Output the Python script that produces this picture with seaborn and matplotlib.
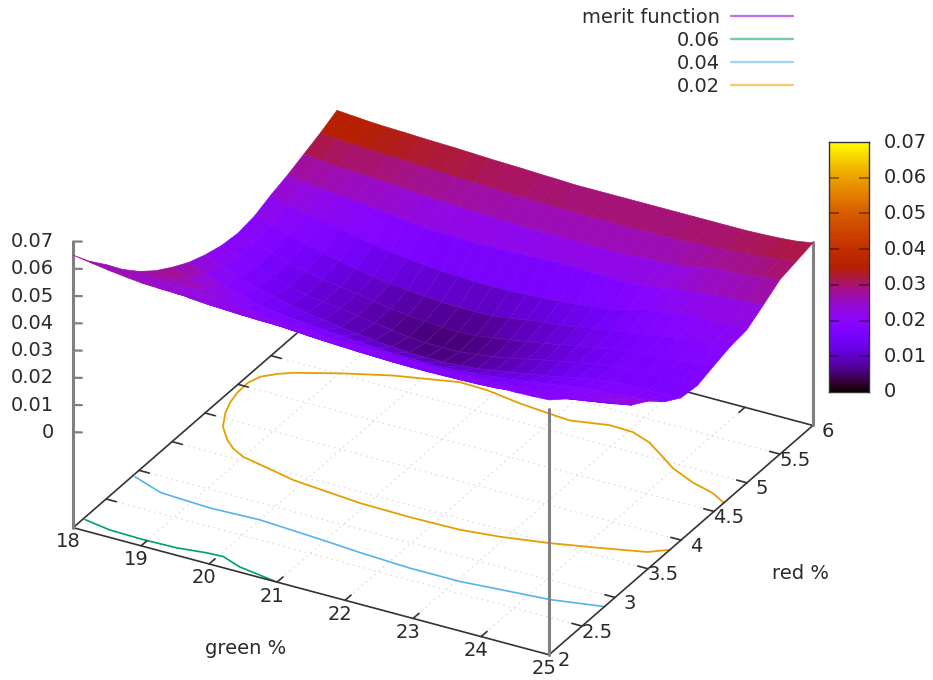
import numpy as np
import seaborn as sns
import matplotlib
matplotlib.use("Agg")
import matplotlib.pyplot as plt
from matplotlib.colors import ListedColormap
from matplotlib.lines import Line2D
from mpl_toolkits.mplot3d import proj3d

# axis values
green = [18, 18.25, 18.5, 18.75, 19, 19.25, 19.5, 19.75, 20, 20.25, 20.5, 20.75, 21, 21.25, 21.5,
         21.75, 22, 22.25, 22.5, 22.75, 23, 23.25, 23.5, 23.75, 24, 24.25, 24.5, 24.75, 25]
red = [2, 2.25, 2.5, 2.75, 3, 3.25, 3.5, 3.75, 4, 4.25, 4.5, 4.75, 5, 5.25, 5.5, 5.75, 6]

# merit function, one row per red value, in 1e-3
merit_rows = [
    [65, 64, 63, 62.2, 61.5, 61.2, 61, 61, 61, 60.8, 60.5, 60, 59.5, 59.2, 59, 59, 59, 58.8, 58.5, 58.2, 58, 58, 58, 58, 58, 58, 58, 58.2, 58.5],
    [57.5, 56.8, 56, 55.3, 54.7, 54.4, 54.1, 54, 54, 53.8, 53.6, 53.2, 52.8, 52.6, 52.5, 52.4, 52.3, 52.1, 51.9, 51.7, 51.6, 51.6, 51.6, 51.7, 51.8, 52.2, 52.6, 53, 53.6],
    [51, 50.2, 49.5, 48.8, 48, 47.7, 47.5, 47.2, 47, 47, 47, 46.7, 46.5, 46.2, 46, 46, 46, 45.8, 45.5, 45.5, 45.5, 45.7, 46, 46.2, 46.5, 47.2, 48, 48.5, 49],
    [44, 43, 42, 41, 40, 39.5, 39.2, 38.9, 38.7, 38.6, 38.5, 38.2, 38, 37.8, 37.6, 37.5, 37.5, 37.4, 37.4, 37.4, 37.6, 37.9, 38.2, 38.7, 39.2, 40, 41, 42, 42.5],
    [38, 37, 36, 35, 34, 33.4, 33, 32.5, 32, 31.5, 31, 30.7, 30.5, 30.2, 30, 30, 30, 30, 30, 30.2, 30.5, 30.7, 31, 31.5, 32, 33, 34, 35, 36],
    [33, 31.5, 30, 28.5, 27, 26.2, 25.6, 25, 24.5, 24.1, 23.7, 23.4, 23.1, 22.9, 22.7, 22.6, 22.6, 22.7, 22.8, 23, 23.3, 24, 24.7, 25.5, 26.3, 27.3, 28.3, 29.3, 30.3],
    [29, 26.8, 24.5, 22.8, 21, 20.2, 19.5, 19, 18.5, 18, 17.5, 17.2, 17, 16.7, 16.5, 16.5, 16.5, 16.5, 16.5, 17, 17.5, 18.5, 19.5, 20.5, 21.5, 22.8, 24, 25.2, 26.5],
    [25.5, 23, 20.5, 18.8, 17, 16, 15.2, 14.5, 14, 13.5, 13, 12.6, 12.2, 12, 11.9, 11.9, 12.5, 13, 13.5, 14.2, 15, 16, 17, 17.8, 18.5, 19, 19.5, 20.2, 21],
    [23, 20.5, 18, 16, 14.5, 13, 11.8, 10.8, 9.8, 9, 8.2, 7.6, 7.2, 7, 7, 7.4, 8, 9, 10, 11, 12, 13.2, 14.5, 15.5, 16.5, 16.5, 16.6, 16.9, 17.2],
    [21.2, 18.8, 16.4, 14.5, 12.8, 11.5, 10.5, 9.8, 8.8, 7.8, 6.8, 6, 5.5, 5.4, 5.5, 6.2, 7, 8.2, 9.5, 10.8, 12, 13.2, 14.5, 15.3, 16, 16, 16, 16.2, 16.5],
    [20.5, 18.5, 16.5, 14.6, 13, 11.8, 10.8, 9.8, 8.8, 7.8, 7, 6.4, 6, 5.9, 6.1, 7, 8, 9, 10, 11.2, 12.5, 13.5, 14.5, 15.5, 16.5, 16.8, 17.2, 17.8, 18.5],
    [21.5, 19.8, 18, 16.2, 14.6, 13.2, 12, 10.9, 10, 9.3, 8.7, 8.3, 8, 8, 8.2, 9, 10, 10.8, 11.5, 12.5, 13.5, 14.5, 15.5, 16.5, 17.5, 18.5, 19.2, 19.7, 20.3],
    [24, 22, 20.2, 19.2, 18.2, 17, 15.8, 14.8, 14, 13.3, 12.8, 12.4, 12.1, 12, 12.1, 12.4, 12.8, 13.3, 13.9, 14.6, 15.4, 16.8, 18.5, 19.5, 20.5, 20.7, 20.8, 21, 21.2],
    [26, 25, 24.2, 23.6, 23.2, 22.4, 21.6, 20.8, 20, 19.8, 19.6, 19.5, 19.5, 19.6, 19.8, 20, 20.3, 20.3, 20, 19.8, 19.8, 20.2, 21, 22.3, 23, 23.6, 24, 24.5, 25],
    [28.5, 27.8, 27, 26.7, 26.5, 26, 25.5, 25, 24.5, 24.2, 24, 23.8, 23.5, 23.3, 23.2, 23.1, 23, 23, 23, 23.2, 23.5, 23.8, 24.2, 25.2, 26.5, 27, 27.5, 28.2, 29],
    [31, 30.4, 30, 29.6, 29.4, 29.1, 28.7, 28.4, 28, 27.7, 27.5, 27.2, 27, 26.8, 26.7, 26.6, 26.5, 26.5, 26.5, 26.6, 26.7, 26.9, 27.1, 27.5, 28, 28.4, 28.8, 29.5, 30.5],
    [34, 33.5, 33, 32.7, 32.5, 32.2, 32, 31.8, 31.5, 31.2, 31, 30.8, 30.5, 30.3, 30, 30, 30, 30, 30, 30, 30, 30, 30, 30, 30, 30.2, 30.5, 31, 32],
]

# colour of the front rows does not follow the height in the picture
shade_front = [
    [28, 27.5, 27, 26.5, 26, 25.5, 25, 24.5, 24, 23.5, 23, 22.5, 22, 21.7, 21.5, 21.2, 21, 20.7, 20.5, 20.2, 20, 20, 20, 20, 20, 20, 20, 20, 20],
    [27, 26.5, 26, 25.5, 25, 24.5, 24, 23.5, 23, 22.5, 22, 21.5, 21, 20.7, 20.5, 20.2, 20, 19.8, 19.5, 19.2, 19, 19, 19, 19, 19, 19, 19, 19.5, 20],
    [26, 25.5, 25, 24.5, 24, 23.5, 23, 22.5, 22, 21.5, 21, 20.5, 20, 20, 20, 19.8, 19.5, 19.2, 19, 19, 19, 19, 19, 19, 19, 19, 19, 19.5, 20],
    [27, 26, 25, 24, 23, 22.3, 21.7, 21, 20.5, 20, 19.5, 19.2, 19, 19, 18.8, 18.6, 18.5, 18.5, 18.5, 18.5, 18.5, 18.5, 18.5, 18.7, 19, 19, 19.5, 20, 20.5],
    [27, 25.5, 24, 22.5, 21, 20.3, 19.5, 19, 18.5, 18.2, 18, 17.8, 17.5, 17.5, 17.5, 17.5, 17.5, 17.5, 17.5, 17.8, 18, 18, 18, 18.2, 18.5, 18.7, 19, 19.5, 20],
    [29, 27, 25, 23.5, 22, 21, 20, 19.5, 19, 18.5, 18.3, 18, 17.8, 17.5, 17.5, 17.5, 17.5, 17.5, 17.5, 17.7, 18, 18.2, 18.5, 18.7, 19, 19.5, 20, 20.5, 21],
]
# back rows look redder than their height
shade_back = [
    [30, 29.3, 28.7, 28.2, 27.7, 27.2, 26.8, 26.3, 25.8, 25.5, 25.2, 25, 24.8, 24.6, 24.4, 24.3, 24.3, 24.3, 24.3, 24.5, 24.7, 25, 25.3, 26, 27, 27.5, 28, 28.7, 29.5],
    [33.5, 33, 32.5, 32, 31.5, 31, 30.5, 30, 29.5, 29.2, 28.9, 28.6, 28.4, 28.2, 28, 27.9, 27.8, 27.8, 27.8, 27.9, 28, 28.2, 28.4, 28.7, 29, 29.4, 29.8, 30.3, 31],
    [38, 37.5, 37, 36.5, 36, 35.5, 35, 34.5, 34, 33.5, 33, 32.5, 32, 31.7, 31.5, 31.5, 31.5, 31.5, 31.5, 31.5, 31.5, 31.5, 31.5, 31.7, 32, 32.3, 32.7, 33, 33.5],
]

# contour lines on the base
c06_x = [18.03, 18.44, 18.94, 19.43, 19.83, 20.06, 20.38, 21]
c06_y = [2.15, 2.10, 2.09, 2.10, 2.14, 2.15, 2.07, 2]
c04_x = [18.04, 18.53, 19.28, 20, 21.04, 21.55, 22.31, 23.05, 23.5, 24.3, 25]
c04_y = [2.9, 2.78, 2.75, 2.77, 2.72, 2.69, 2.66, 2.66, 2.69, 2.74, 2.84]
c02_x = [25, 24.75, 24.39, 23.98, 23.73, 23.38, 23.06, 22.71, 22.2, 21.86, 21.42, 20.88, 20.47, 19.97,
         19.63, 19.04, 18.47, 18.31, 18.15, 18.09, 18.10, 18.15, 18.23, 18.38, 18.6, 18.77, 19.0, 19.41, 19.86,
         20.91, 21.65, 22.38, 22.92, 23.55, 24.1, 24.77, 25]
c02_y = [4.65, 4.74, 4.81, 4.93, 5.04, 5.19, 5.27, 5.28, 5.2, 5.22, 5.25, 5.31, 5.32, 5.23,
         5.17, 5.02, 4.85, 4.78, 4.68, 4.55, 4.38, 4.22, 4.07, 3.88, 3.72, 3.63, 3.55, 3.49, 3.42,
         3.35, 3.34, 3.35, 3.40, 3.49, 3.59, 3.72, 3.83]

# tick values
z_ticks = [0, 0.01, 0.02, 0.03, 0.04, 0.05, 0.06, 0.07]
x_ticks = [18, 19, 20, 21, 22, 23, 24, 25]
y_ticks = [2, 2.5, 3, 3.5, 4, 4.5, 5, 5.5, 6]

W, H = 933, 680
Z_BASE = -0.035
Z_TOP = 0.07

sns.set_theme(style="white")
plt.rcParams["font.family"] = ["DejaVu Sans"]
plt.rcParams["text.color"] = "#2a2a2a"
FS = 14

# gnuplot's default pm3d palette (rgbformulae 7,5,15)
t = np.linspace(0, 1, 256)
palette = ListedColormap(np.column_stack([np.sqrt(t), t ** 3, np.clip(np.sin(2 * np.pi * t), 0, 1)]))

merit = np.array(merit_rows) * 1e-3
shade = merit.copy()
shade[:len(shade_front)] = np.array(shade_front) * 1e-3
shade[-len(shade_back):] = np.array(shade_back) * 1e-3
X, Y = np.meshgrid(green, red)

fig = plt.figure(figsize=(W / 100, H / 100), dpi=100)
L = 1000
ax = fig.add_axes([-70.5 / W, -167 / H, L / W, L / H], projection="3d", proj_type="ortho")
ax.computed_zorder = False
ax.view_init(elev=28.8, azim=-61)
ax.set_box_aspect((1, 1, 0.6), zoom=0.8116)
ax.set_axis_off()
ax.patch.set_alpha(0)

# dotted grid on the base
grid_kw = dict(color="#dadada", lw=1, ls=(0, (1, 3)), zorder=1)
for v in x_ticks[1:-1]:
    ax.plot([v, v], [2, 6], [Z_BASE, Z_BASE], **grid_kw)
for v in y_ticks[1:-1]:
    ax.plot([18, 25], [v, v], [Z_BASE, Z_BASE], **grid_kw)

# contours
cols = sns.color_palette(["#9400d3", "#009e73", "#56b4e9", "#e69f00"])
ax.plot(c06_x, c06_y, Z_BASE, color=cols[1], lw=1.2, zorder=2)
ax.plot(c04_x, c04_y, Z_BASE, color=cols[2], lw=1.2, zorder=2)
ax.plot(c02_x, c02_y, Z_BASE, color=cols[3], lw=1.3, zorder=2)

# base frame
frame_kw = dict(color="#333333", lw=1.2, zorder=3)
ax.plot([18, 25, 25, 18, 18], [2, 2, 6, 6, 2], Z_BASE, **frame_kw)
for v in x_ticks[1:-1]:
    ax.plot([v, v], [2, 2.09], Z_BASE, **frame_kw)
    ax.plot([v, v], [6, 5.91], Z_BASE, **frame_kw)
for v in y_ticks[1:-1]:
    ax.plot([25, 24.85], [v, v], Z_BASE, **frame_kw)
    ax.plot([18, 18.15], [v, v], Z_BASE, **frame_kw)

# vertical grey axes
vert_kw = dict(color="#808080", lw=2.2, zorder=4)
ax.plot([18, 18], [2, 2], [Z_BASE, Z_TOP], **vert_kw)
ax.plot([25, 25], [2, 2], [Z_BASE, 0.055], **vert_kw)
ax.plot([25, 25], [6, 6], [Z_BASE, Z_TOP * 0.46], **vert_kw)
for v in z_ticks:
    ax.plot([18, 18.10], [2, 2.03], [v, v], color="#808080", lw=1.6, zorder=4)

# surface, colour taken per cell from the four corners, mesh shows only in the dark part
cell = (shade[:-1, :-1] + shade[1:, :-1] + shade[:-1, 1:] + shade[1:, 1:]) / 4
face = palette(cell / Z_TOP)
mix = np.clip((0.016 - cell) / 0.016, 0, 1)[..., None] * 0.3
edge = face.copy()
edge[..., :3] = face[..., :3] * (1 - mix) + np.array([0.85, 0.3, 0.9]) * mix
surf = ax.plot_surface(X, Y, merit, rstride=1, cstride=1, facecolors=face, shade=False,
                       linewidth=0.45, antialiased=True, zorder=5)
surf.set_edgecolor(edge.reshape(-1, 4))

ax.set_xticks([])
ax.set_yticks([])
ax.set_zticks([])
ax.set_xlim(18, 25, view_margin=0)
ax.set_ylim(2, 6, view_margin=0)
ax.set_zlim(Z_BASE, Z_TOP, view_margin=0)


def label(x, y, z, s, ha="center"):
    # plain 2D text at the projected spot of a 3D point
    px, py, _ = proj3d.proj_transform(x, y, z, ax.get_proj())
    ax.annotate(s, (px, py), ha=ha, va="center", fontsize=FS, zorder=6, annotation_clip=False)


# tick labels
for v in x_ticks:
    label(v + 0.125, 2 - 0.204, Z_BASE, str(v))
for v in y_ticks:
    label(25.246, v - 0.027, Z_BASE, f"{v:g}")
for v in z_ticks:
    label(18 - 0.215, 2 - 0.068, v, f"{v:g}", ha="right")
label(21.5, 1.0, Z_BASE, "green %")
label(26.77, 3.98, Z_BASE, "red %")

# legend top right
handles = [Line2D([], [], color=c, lw=1.7, alpha=0.55) for c in cols]
fig.legend(handles, ["merit function", "0.06", "0.04", "0.02"], loc="upper right",
           bbox_to_anchor=(793 / W, 1 - 8 / H), frameon=False, fontsize=FS, markerfirst=False,
           handlelength=3.2, handletextpad=0.55, labelspacing=0.2, borderpad=0, borderaxespad=0)

# colour box
cax = fig.add_axes([828.5 / W, 1 - 392 / H, 40 / W, 250 / H])
gradient = np.linspace(Z_TOP, 0, 256)[:, None]
sns.heatmap(gradient, ax=cax, cmap=palette, vmin=0, vmax=Z_TOP, cbar=False, xticklabels=False, yticklabels=False)
for s in cax.spines.values():
    s.set_visible(True)
    s.set_color("#333333")
    s.set_linewidth(1)
tick_pos = [(Z_TOP - v) / Z_TOP * 256 for v in z_ticks]
cax.hlines(tick_pos, 0, 0.25, color="#000000", alpha=0.45, lw=1.2)
cax.hlines(tick_pos, 0.75, 1, color="#000000", alpha=0.45, lw=1.2)
cax.yaxis.tick_right()
cax.set_yticks(tick_pos)
cax.set_yticklabels([f"{v:g}" for v in z_ticks], fontsize=FS, rotation=0, va="center")
cax.tick_params(axis="y", length=0, pad=11)

fig.savefig("out.png", dpi=100)
